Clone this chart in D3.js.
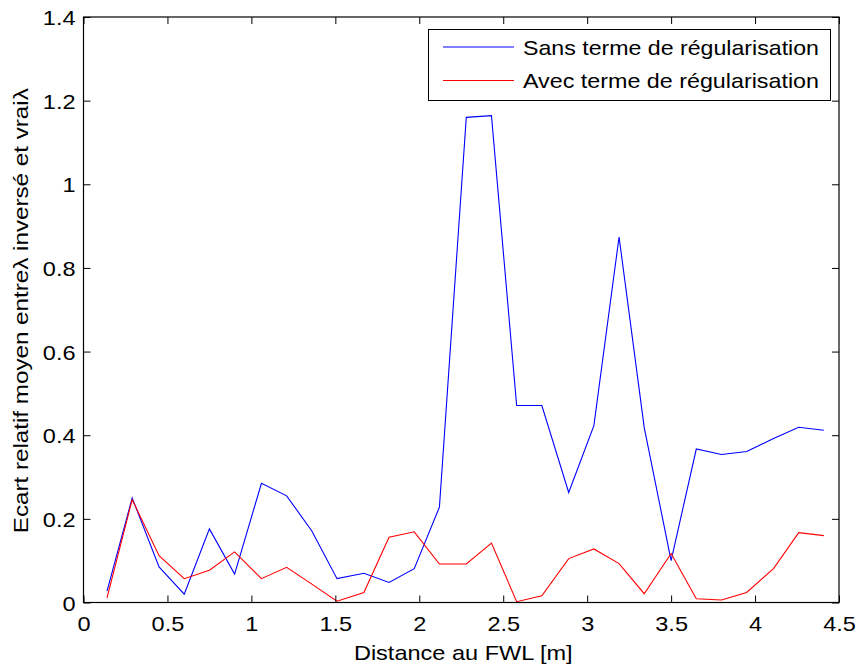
<!DOCTYPE html>
<html>
<head>
<meta charset="utf-8">
<script src="https://cdn.jsdelivr.net/npm/d3@7"></script>
<style>
  html, body { margin: 0; padding: 0; background: #fff; }
  svg { display: block; }
  text { font-family: Arial, "Liberation Sans", sans-serif; fill: #000; }
</style>
</head>
<body>
<svg id="chart" width="859" height="669"></svg>
<script>
const distances = [0.14,0.29,0.45,0.60,0.75,0.90,1.06,1.21,1.36,1.51,1.67,1.82,1.97,2.12,2.28,2.43,2.58,2.73,2.89,3.04,3.19,3.34,3.50,3.65,3.80,3.95,4.11,4.26,4.41];
const sansTerme = [0.027,0.250,0.085,0.020,0.176,0.068,0.285,0.255,0.171,0.057,0.070,0.048,0.081,0.228,1.160,1.164,0.471,0.471,0.263,0.423,0.874,0.418,0.100,0.367,0.354,0.361,0.392,0.419,0.412];
const avecTerme = [0.011,0.246,0.112,0.057,0.077,0.121,0.057,0.084,0.044,0.003,0.024,0.156,0.169,0.092,0.092,0.142,0.002,0.016,0.105,0.128,0.093,0.021,0.117,0.009,0.006,0.024,0.081,0.167,0.160];
const xTicks = [0,0.5,1,1.5,2,2.5,3,3.5,4,4.5];
const yTicks = [0,0.2,0.4,0.6,0.8,1,1.2,1.4];
const seriesNames = ["Sans terme de régularisation", "Avec terme de régularisation"];
const seriesColors = ["#0000ff", "#ff0000"];
const xLabel = "Distance au FWL [m]";
const yLabel = "Ecart relatif moyen entreλ inversé et vraiλ";

const svg = d3.select("#chart");
const L = 83.5, R = 839, T = 17, B = 602.5;
const x = d3.scaleLinear().domain([0, 4.5]).range([L, R]);
const y = d3.scaleLinear().domain([0, 1.4]).range([B, T]);
const FS = 21, STRETCH = 1.12, TICK = 7;

function stretch(sel, f) {
  sel.each(function() {
    const w = this.getComputedTextLength();
    d3.select(this).attr("textLength", w * f).attr("lengthAdjust", "spacingAndGlyphs");
  });
}

// lines
const line = d3.line().x((d, i) => x(distances[i])).y(d => y(d));
[sansTerme, avecTerme].forEach((s, k) => {
  svg.append("path").datum(s).attr("d", line)
    .attr("fill", "none").attr("stroke", seriesColors[k]).attr("stroke-width", 1.1)
    .attr("stroke-linejoin", "miter");
});

// axes (MATLAB box style, ticks inward on all sides)
const fmt = d => String(+d.toFixed(2));
const gB = svg.append("g").attr("transform", `translate(0,${B})`)
  .call(d3.axisBottom(x).tickValues(xTicks).tickSizeInner(-TICK).tickSizeOuter(0).tickPadding(14).tickFormat(fmt));
const gT = svg.append("g").attr("transform", `translate(0,${T})`)
  .call(d3.axisTop(x).tickValues(xTicks).tickSizeInner(-TICK).tickSizeOuter(0).tickFormat(""));
const gL = svg.append("g").attr("transform", `translate(${L},0)`)
  .call(d3.axisLeft(y).tickValues(yTicks).tickSizeInner(-TICK).tickSizeOuter(0).tickPadding(8).tickFormat(fmt));
const gR = svg.append("g").attr("transform", `translate(${R},0)`)
  .call(d3.axisRight(y).tickValues(yTicks).tickSizeInner(-TICK).tickSizeOuter(0).tickFormat(""));
[gB, gT, gL, gR].forEach(g => {
  g.select(".domain").remove();
  g.selectAll(".tick line").attr("stroke", "#000").attr("stroke-width", 1);
  g.selectAll("text").attr("font-size", FS).attr("font-family", "Arial, 'Liberation Sans', sans-serif").attr("fill", "#000");
});
gB.selectAll("text").attr("dy", "0.71em");
gL.selectAll("text").attr("dy", "0.36em");
stretch(gB.selectAll(".tick text"), STRETCH);
stretch(gL.selectAll(".tick text"), STRETCH);

svg.append("rect").attr("x", L).attr("y", T).attr("width", R - L).attr("height", B - T)
  .attr("fill", "none").attr("stroke", "#000").attr("stroke-width", 1.2);

// axis labels
const xl = svg.append("text").attr("x", (L + R) / 2 + 2).attr("y", 660)
  .attr("text-anchor", "middle").attr("font-size", FS).text(xLabel);
stretch(xl, STRETCH);
const yl = svg.append("text").attr("transform", `translate(28,${(T + B) / 2 + 1}) rotate(-90)`)
  .attr("text-anchor", "middle").attr("font-size", FS).text(yLabel)
  .attr("textLength", 445).attr("lengthAdjust", "spacingAndGlyphs");

// legend
const lg = svg.append("g");
lg.append("rect").attr("x", 428.5).attr("y", 29.5).attr("width", 402).attr("height", 71)
  .attr("fill", "#fff").attr("stroke", "#000").attr("stroke-width", 1);
seriesNames.forEach((n, k) => {
  const yy = 47 + k * 33.5;
  lg.append("line").attr("x1", 443).attr("x2", 514).attr("y1", yy).attr("y2", yy)
    .attr("stroke", seriesColors[k]).attr("stroke-width", 1.1);
  const t = lg.append("text").attr("x", 523).attr("y", yy).attr("dy", "0.36em")
    .attr("font-size", FS).text(n);
  t.attr("textLength", 296).attr("lengthAdjust", "spacingAndGlyphs");
});
</script>
</body>
</html>
